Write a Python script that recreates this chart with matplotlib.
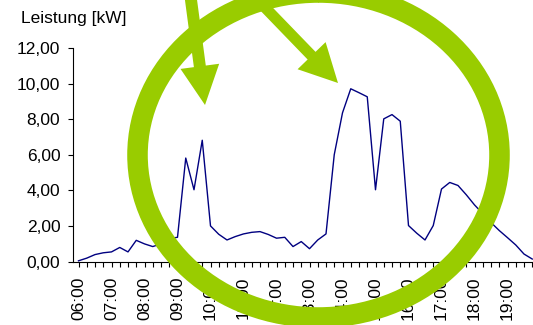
import matplotlib
matplotlib.use("Agg")
import matplotlib.pyplot as plt
from matplotlib.patches import Ellipse, FancyArrow

# daily power curve in 15 minute steps, with a highlight ring and two arrows on top

# quarter-hour timestamps from 06:00 to 19:45
times = [f"{h:02d}:{m:02d}" for h in range(6, 20) for m in (0, 15, 30, 45)]

# measured power in kW
power_kw = [
    0.05, 0.20, 0.40, 0.50,   # 06
    0.55, 0.80, 0.55, 1.20,   # 07
    1.00, 0.85, 1.00, 1.30,   # 08
    1.37, 5.82, 4.04, 6.82,   # 09
    2.01, 1.54, 1.22, 1.41,   # 10
    1.56, 1.65, 1.69, 1.53,   # 11
    1.32, 1.37, 0.85, 1.13,   # 12
    0.73, 1.22, 1.56, 6.01,   # 13
    8.36, 9.71, 9.49, 9.26,   # 14
    4.04, 8.02, 8.26, 7.89,   # 15
    2.03, 1.60, 1.22, 2.03,   # 16
    4.08, 4.45, 4.28, 3.76,   # 17
    3.19, 2.70, 2.20, 1.75,   # 18
    1.35, 0.94, 0.43, 0.15,   # 19
]

# hour labels, one per four ticks (20:00 sits right at the edge)
hour_labels = [f"{h:02d}:00" for h in range(6, 21)]
y_ticks = [0, 2, 4, 6, 8, 10, 12]

W, H = 533, 325
GREEN = "#99cc00"
NAVY = "#000080"


def draw_chart():
    plt.rcParams["font.family"] = ["Liberation Sans", "DejaVu Sans"]
    fig = plt.figure(figsize=(W / 100, H / 100), dpi=100)
    fig.patch.set_facecolor("white")

    # main axes, runs past the right edge of the figure
    left, bottom, top, right = 72.5, 261.7, 48.0, 560.0
    ax = fig.add_axes([left / W, (H - bottom) / H,
                       (right - left) / W, (bottom - top) / H])
    step = 8.25
    x0 = 78.5
    ax.set_xlim((left - x0) / step, (right - x0) / step)
    ax.set_ylim(0, 12)

    ax.plot(range(len(power_kw)), power_kw, color=NAVY, linewidth=1.0)

    ax.spines[["top", "right"]].set_visible(False)
    for s in ("left", "bottom"):
        ax.spines[s].set_linewidth(0.8)

    ax.set_yticks(y_ticks)
    ax.set_yticklabels([f"{v:.2f}".replace(".", ",") for v in y_ticks])
    ax.tick_params(axis="y", length=3.3, width=0.8, pad=5.5,
                   labelsize=12.5, colors="black")

    # one tick per quarter hour, labels on the full hours
    n_ticks = len(hour_labels) * 4 - 3
    ax.set_xticks(range(n_ticks))
    labels = []
    for i in range(n_ticks):
        labels.append(hour_labels[i // 4] if i % 4 == 0 else "")
    ax.set_xticklabels(labels, rotation=90)
    ax.tick_params(axis="x", length=3.6, width=0.8, pad=7,
                   labelsize=12.5, colors="black")

    fig.text(21 / W, 1 - 23 / H, "Leistung [kW]", fontsize=12.5,
             ha="left", va="baseline")

    # overlay in pixel coordinates for the ring and the arrows
    ov = fig.add_axes([0, 0, 1, 1])
    ov.set_xlim(0, W)
    ov.set_ylim(H, 0)
    ov.axis("off")
    ov.patch.set_alpha(0)

    ov.add_patch(Ellipse((318.5, 155), 362, 325, fill=False,
                         edgecolor=GREEN, linewidth=14.8))
    ov.add_patch(FancyArrow(189, -15, 16, 120, width=12, head_width=39,
                            head_length=39, length_includes_head=True,
                            color=GREEN, linewidth=0))
    ov.add_patch(FancyArrow(250, -8, 88, 91, width=11, head_width=39,
                            head_length=38, length_includes_head=True,
                            color=GREEN, linewidth=0))

    fig.savefig("out.png", dpi=100)


def main():
    draw_chart()


if __name__ == "__main__":
    main()
